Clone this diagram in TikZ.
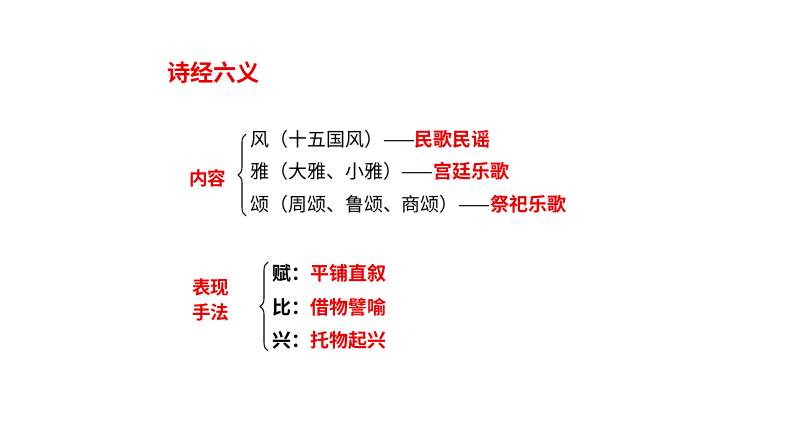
\documentclass[tikz,border=0pt]{standalone}
\usepackage{fontspec}
\newfontfamily\cjk{Noto Sans CJK SC}
\newfontfamily\cjkb{Noto Sans CJK SC Bold}
\usetikzlibrary{decorations.pathreplacing}
\definecolor{hired}{RGB}{232,0,0}
\tikzstyle{title} = [anchor=west, inner sep=0pt, font=\cjkb\fontsize{17.5}{20}\selectfont, text=hired]
\tikzstyle{head} = [anchor=west, inner sep=0pt, font=\cjkb\fontsize{14}{19}\selectfont, text=hired, align=left]
\tikzstyle{item} = [anchor=west, inner sep=0pt, font=\cjk\fontsize{14.3}{15}\selectfont]
\tikzstyle{brace} = [decorate, decoration={brace, amplitude=6pt}, thick]
\newcommand{\hi}[1]{{\cjkb\color{hired}#1}}

\begin{document}
\begin{tikzpicture}[x=0.0265cm, y=-0.0265cm]
            \useasboundingbox (0,0) rectangle (794,447);
            \node[title] (ti) at (167,73) {诗经六义};
            % content
            \node[head] (nr) at (189,178) {内容};
            \coordinate (b1t) at (246,134);
            \coordinate (b1b) at (246,216);
            \draw[brace] (b1b) -- (b1t);
            \node[item] (feng) at (250,139) {风（十五国风）——\hi{民歌民谣}};
            \node[item] (ya) at (250,171) {雅（大雅、小雅）——\hi{宫廷乐歌}};
            \node[item] (song) at (250,204) {颂（周颂、鲁颂、商颂）——\hi{祭祀乐歌}};
            % methods
            \node[head] (sf) at (192,300) {表现\\手法};
            \coordinate (b2t) at (268,262);
            \coordinate (b2b) at (268,351);
            \draw[brace] (b2b) -- (b2t);
            \node[item] (fu) at (272,273) {\cjkb 赋：\hi{平铺直叙}};
            \node[item] (bi) at (272,307) {\cjkb 比：\hi{借物譬喻}};
            \node[item] (xing) at (272,340) {\cjkb 兴：\hi{托物起兴}};
        \end{tikzpicture}
\end{document}
